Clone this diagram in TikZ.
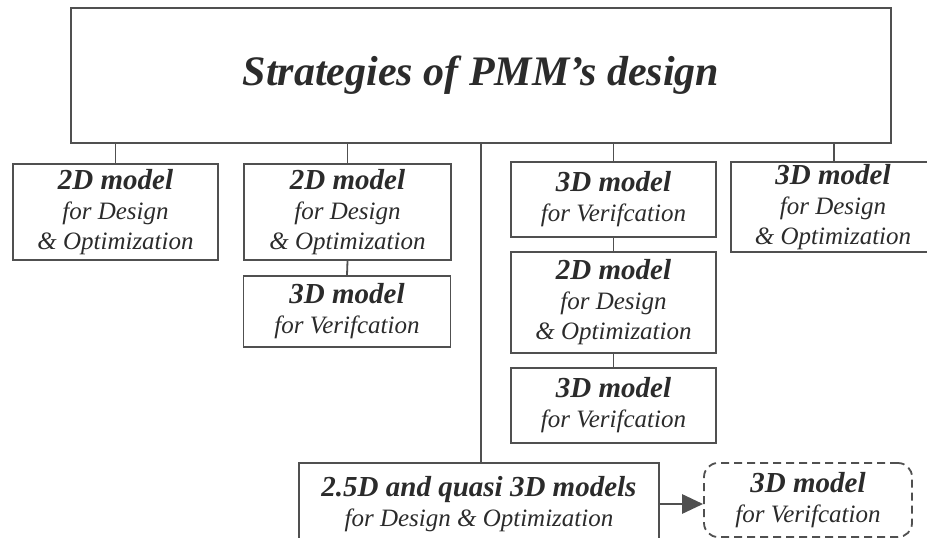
\documentclass[tikz,border=0pt]{standalone}
\usepackage{fontspec}
\setmainfont{Liberation Serif}
\usetikzlibrary{arrows.meta}
\definecolor{inkc}{HTML}{2B2B2B}
\definecolor{linec}{HTML}{505050}
\newcommand\bhead[1]{{\bfseries\fontsize{29}{30}\selectfont #1}}
\tikzset{
  box/.style={draw=linec, line width=1.8pt, inner sep=0pt, align=center,
    text=inkc, font=\itshape\fontsize{25}{30}\selectfont},
  conn/.style={draw=linec, line width=1.8pt},
  dbox/.style={box, dash pattern=on 8pt off 5pt, rounded corners=14pt},
}
\begin{document}
\begin{tikzpicture}[x=1pt,y=-1pt]
\fill[white] (0,0) rectangle (927,538);
\useasboundingbox (0,0) rectangle (927,538);

\node[box, minimum width=820pt, minimum height=135pt,
      font=\bfseries\itshape\fontsize{42}{50}\selectfont] (top) at (481,75.5)
      {Strategies of PMM’s design};

\node[box, minimum width=205pt, minimum height=96pt] (A) at (115.5,212)
  {\bhead{2D model}\\for Design\\\& Optimization};
\node[box, minimum width=207pt, minimum height=96pt] (B) at (347.5,212)
  {\bhead{2D model}\\for Design\\\& Optimization};
\node[box, minimum width=207pt, minimum height=71pt] (B2) at (347,311.5)
  {\bhead{3D model}\\for Verifcation};
\node[box, minimum width=205pt, minimum height=75pt] (C) at (613.5,199.5)
  {\bhead{3D model}\\for Verifcation};
\node[box, minimum width=205pt, minimum height=101pt] (D) at (613.5,302.5)
  {\bhead{2D model}\\for Design\\\& Optimization};
\node[box, minimum width=205pt, minimum height=75pt] (E) at (613.5,405.5)
  {\bhead{3D model}\\for Verifcation};
\node[box, minimum width=204pt, minimum height=90pt] (F) at (833,207)
  {\bhead{3D model}\\for Design\\\& Optimization};
\node[box, minimum width=360pt, minimum height=82pt] (G) at (479,504)
  {\bhead{2.5D and quasi 3D models}\\for Design \& Optimization};
\node[dbox, minimum width=208pt, minimum height=74pt] (H) at (808,500)
  {\bhead{3D model}\\for Verifcation};

\draw[conn] (A.north) -- (A.north |- top.south);
\draw[conn] (B.north) -- (B.north |- top.south);
\draw[conn] (C.north) -- (C.north |- top.south);
\draw[conn] ([xshift=1pt]F.north) -- ([xshift=1pt]F.north |- top.south);
\draw[conn] (top.south) -- (top.south |- G.north);
\draw[conn] (B.south) -- (B2.north);
\draw[conn] (C.south) -- (D.north);
\draw[conn] (D.south) -- (E.north);
\draw[conn, line width=2.8pt, -{Triangle[length=21pt,width=19pt]}] (G.east) -- (G.east -| H.west);
\end{tikzpicture}
\end{document}
